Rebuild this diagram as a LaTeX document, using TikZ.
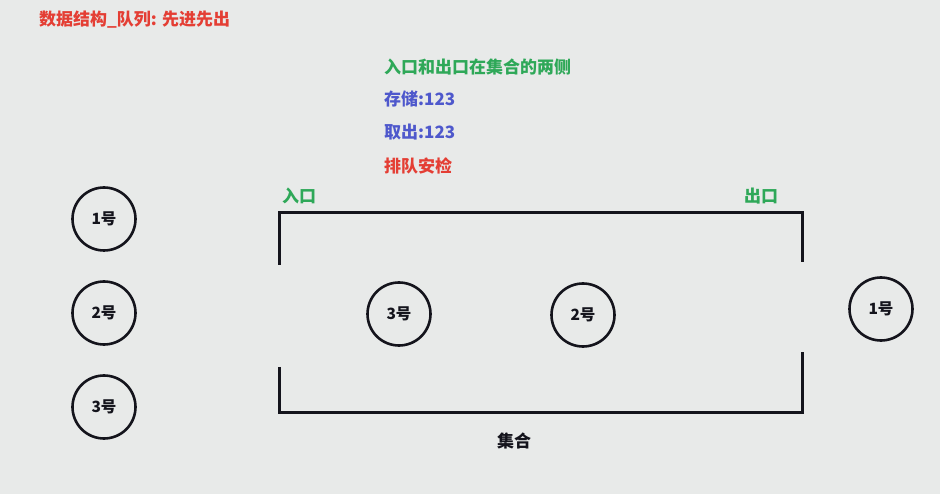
\documentclass[tikz,border=0pt]{standalone}
\usepackage{fontspec}
\setmainfont{Noto Sans CJK SC}
\definecolor{bg}{RGB}{232,234,233}
\definecolor{tred}{RGB}{228,62,52}
\definecolor{tgreen}{RGB}{46,168,88}
\definecolor{tblue}{RGB}{78,88,204}
\definecolor{ink}{RGB}{20,20,28}
\begin{document}
\begin{tikzpicture}[x=1pt,y=-1pt,
  lbl/.style={anchor=west,inner sep=0pt,font=\fontsize{17}{20}\selectfont\bfseries},
  ball/.style={circle,draw=ink,line width=2.6pt,minimum size=63pt,inner sep=0pt,
    text=ink,font=\fontsize{15.5}{18}\selectfont\bfseries},
  wall/.style={draw=ink,line width=3pt}]
\fill[bg] (0,0) rectangle (940,494);
\useasboundingbox (0,0) rectangle (940,494);
% texts
\node[lbl,text=tred] (title) at (39,20) {数据结构\_队列: 先进先出};
\node[lbl,text=tgreen] (t1) at (384,67) {入口和出口在集合的两侧};
\node[lbl,text=tblue] (t2) at (384,99) {存储:123};
\node[lbl,text=tblue] (t3) at (384,132) {取出:123};
\node[lbl,text=tred] (t4) at (384,166) {排队安检};
\node[lbl,text=tgreen] (inlbl) at (282,196) {入口};
\node[lbl,text=tgreen] (outlbl) at (744,196) {出口};
\node[lbl,text=ink] (setlbl) at (497,441) {集合};
% container
\coordinate (lt1) at (279,265);
\coordinate (lt2) at (279,213);
\coordinate (rt1) at (802,213);
\coordinate (rt2) at (802,262);
\coordinate (lb1) at (279,367);
\coordinate (lb2) at (279,412);
\coordinate (rb1) at (802,412);
\coordinate (rb2) at (802,352);
\draw[wall] (lt1) -- (lt2) -- (rt1) -- (rt2);
\draw[wall] (lb1) -- (lb2) -- (rb1) -- (rb2);
% balls
\node[ball] (w1) at (104,219) {1号};
\node[ball] (w2) at (104,313) {2号};
\node[ball] (w3) at (104,407) {3号};
\node[ball] (q3) at (399,314) {3号};
\node[ball] (q2) at (583,315) {2号};
\node[ball] (o1) at (881,309) {1号};
\end{tikzpicture}
\end{document}
